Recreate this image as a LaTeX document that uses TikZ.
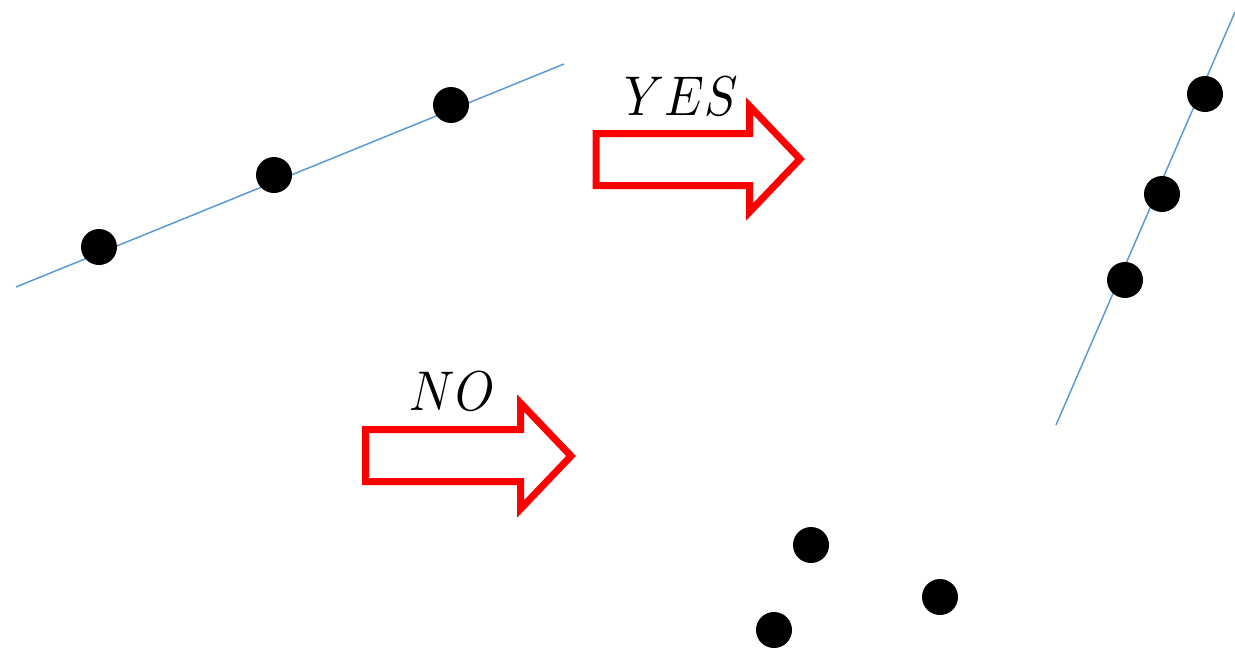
\documentclass[tikz,border=0pt]{standalone}
\usepackage{tikz}
\definecolor{lineblue}{RGB}{91,155,213}
\definecolor{arrred}{RGB}{255,0,0}
\tikzset{
  dot/.style={circle,fill=black,minimum size=36pt,inner sep=0pt},
  fitline/.style={draw=lineblue,line width=1.5pt},
  blockarrow/.style={draw=arrred,line width=7pt,miter limit=10},
  lbl/.style={inner sep=0pt,anchor=base,xscale=5.0,yscale=5.6}
}
\begin{document}
\begin{tikzpicture}[x=1pt,y=-1pt]
\useasboundingbox (0,0) rectangle (1235,648);
% top-left line and points
\coordinate (l1a) at (16,287);
\coordinate (l1b) at (564,64);
\draw[fitline] (l1a) -- (l1b);
\node[dot] (p1) at (99,247) {};
\node[dot] (p2) at (274,175) {};
\node[dot] (p3) at (451,105) {};
% right line and points
\coordinate (l2a) at (1235,12);
\coordinate (l2b) at (1056,425);
\draw[fitline] (l2a) -- (l2b);
\node[dot] (q1) at (1205,94) {};
\node[dot] (q2) at (1162,194) {};
\node[dot] (q3) at (1125,280) {};
% bottom points
\node[dot] (r1) at (811,545) {};
\node[dot] (r2) at (940,597) {};
\node[dot] (r3) at (774,630) {};
% YES arrow
\draw[blockarrow] (596,133.5) -- (749.5,133.5) -- (749.5,106) -- (800,159)
  -- (749.5,212) -- (749.5,185.5) -- (596,185.5) -- cycle;
\node[lbl] (yes) at (681,115) {$YES$};
% NO arrow
\draw[blockarrow] (365.5,429.5) -- (520.5,429.5) -- (520.5,403) -- (571,456)
  -- (520.5,509) -- (520.5,481.5) -- (365.5,481.5) -- cycle;
\node[lbl] (no) at (452,410) {$NO$};
\end{tikzpicture}
\end{document}
